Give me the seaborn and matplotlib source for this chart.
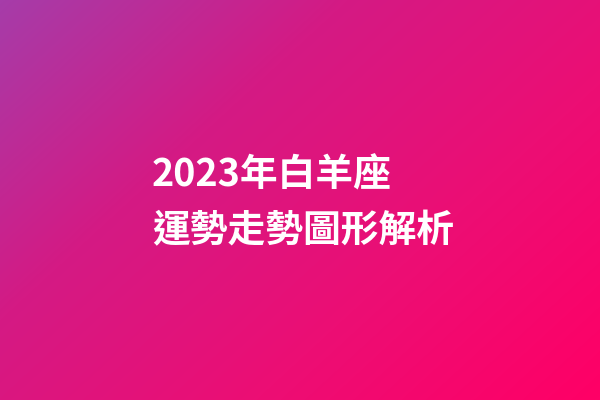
import numpy as np
import matplotlib
matplotlib.use("Agg")
import matplotlib.pyplot as plt
import seaborn as sns
from matplotlib.colors import LinearSegmentedColormap

# Content
title_lines = ["2023年白羊座", "運勢走勢圖形解析"]
gradient_colors = ["#a63ca9", "#d41a84", "#ec0e74", "#ff0066"]

sns.set_theme(style="white")
plt.rcParams['font.family'] = ['Noto Sans CJK TC', 'DejaVu Sans']

fig = plt.figure(figsize=(6, 4), dpi=100)
ax = fig.add_axes([0, 0, 1, 1])
W, H = 600, 400
xx, yy = np.meshgrid(np.linspace(0, 1, W), np.linspace(0, 1, H))
t = np.clip(0.58 * xx + 0.42 * yy, 0, 1)
cmap = LinearSegmentedColormap.from_list("bg", gradient_colors)
ax.imshow(t, cmap=cmap, extent=[0, W, H, 0], aspect='auto', interpolation='bilinear', vmin=0, vmax=1)
ax.set_xlim(0, W)
ax.set_ylim(H, 0)
ax.axis('off')

ax.text(152, 175, title_lines[0], color='white', fontsize=27.2, fontweight='bold', va='center', ha='left')
ax.text(152, 231, title_lines[1], color='white', fontsize=27.2, fontweight='bold', va='center', ha='left')

fig.savefig("out.png", dpi=100)
